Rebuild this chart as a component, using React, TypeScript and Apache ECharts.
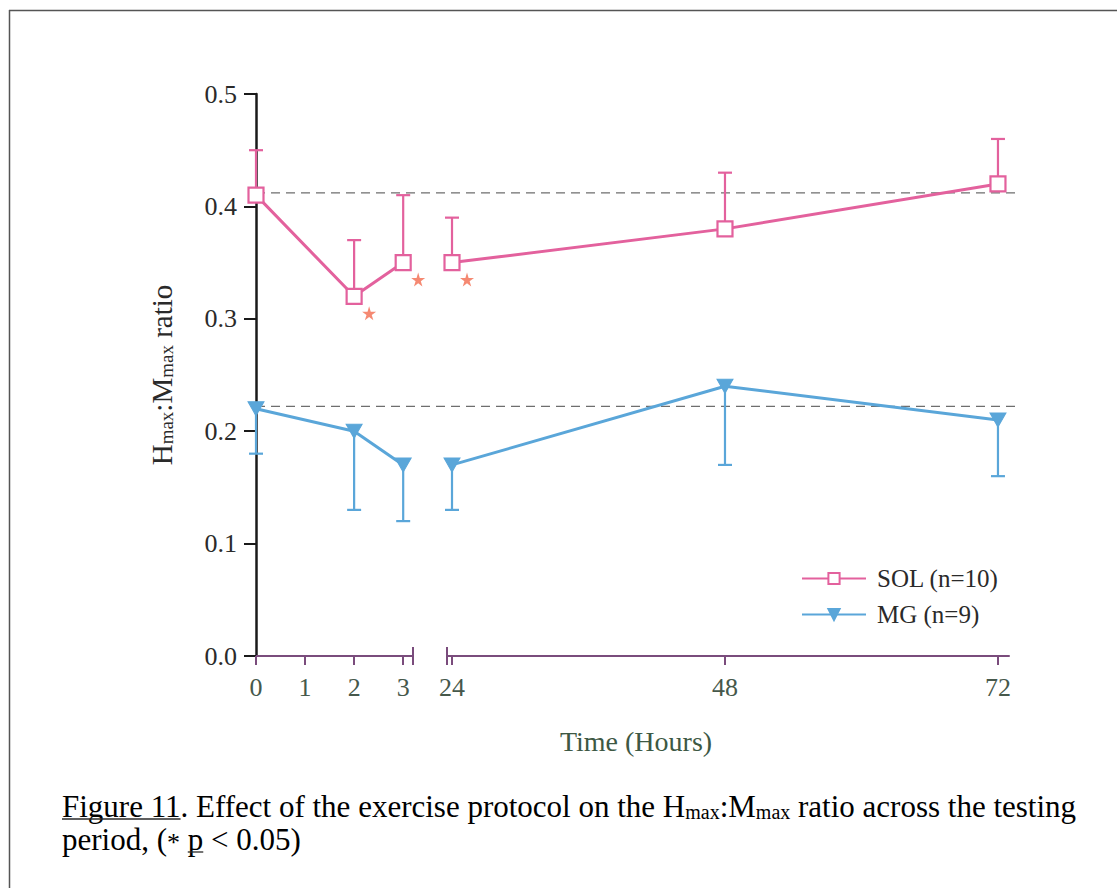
import React, { useEffect, useRef } from "react";
import * as echarts from "echarts";

// ---------- data ----------
const hours = [0, 2, 3, 24, 48, 72];
const solMean = [0.41, 0.32, 0.35, 0.35, 0.38, 0.42];
const solUpper = [0.45, 0.37, 0.41, 0.39, 0.43, 0.46];
const mgMean = [0.22, 0.2, 0.17, 0.17, 0.24, 0.21];
const mgLower = [0.18, 0.13, 0.12, 0.13, 0.17, 0.16];
const sigHours = [2, 3, 24];
const solBaseline = 0.412;
const mgBaseline = 0.222;
const earlyTicks = [0, 1, 2, 3];
const lateTicks = [24, 48, 72];
const lastEarlyHour = 3;
const earlyRange = [0, 3.2];
const lateRange = [23.56, 72.97];
const yTicks = [0, 0.1, 0.2, 0.3, 0.4, 0.5];
const solName = "SOL (n=10)";
const mgName = "MG (n=9)";

// ---------- styles ----------
const FONT = '"Liberation Serif", "Times New Roman", serif';
const PINK = "#e3619d";
const BLUE = "#5aa6d9";
const PURPLE = "#7a4c7c";
const STAR = "#f26b4f";
const XLAB = "#46584b";
const TXT = "#2a2a2a";
const STAR_PATH =
  "path://M50,0 L61,35 L98,35 L68,57 L79,91 L50,70 L21,91 L32,57 L2,35 L39,35 Z";

const isEarly = (h: number) => h <= lastEarlyHour;

function pick(vals: number[], early: boolean) {
  return hours
    .map((h, i) => ({ h, v: vals[i] }))
    .filter((d) => isEarly(d.h) === early)
    .map((d) => [d.h, d.v]);
}
function pickErr(means: number[], errs: number[], early: boolean) {
  return hours
    .map((h, i) => ({ h, m: means[i], e: errs[i] }))
    .filter((d) => isEarly(d.h) === early)
    .map((d) => [d.h, d.m, d.e]);
}
function stars(early: boolean) {
  return sigHours
    .filter((h) => isEarly(h) === early)
    .map((h) => [h, solMean[hours.indexOf(h)]]);
}

const errRender = (color: string) => (params: any, api: any) => {
  const x = api.value(0);
  const p0 = api.coord([x, api.value(1)]);
  const p1 = api.coord([x, api.value(2)]);
  const hw = 7;
  return {
    type: "group",
    children: [
      {
        type: "line",
        shape: { x1: p0[0], y1: p0[1], x2: p1[0], y2: p1[1] },
        style: { stroke: color, lineWidth: 2.2 },
      },
      {
        type: "line",
        shape: { x1: p1[0] - hw, y1: p1[1], x2: p1[0] + hw, y2: p1[1] },
        style: { stroke: color, lineWidth: 2.2 },
      },
    ],
  };
};

function measure(text: string, size: number) {
  const c = document.createElement("canvas").getContext("2d");
  if (!c) return text.length * size * 0.45;
  c.font = `${size}px "Liberation Serif"`;
  return c.measureText(text).width;
}

export default function App() {
  const ref = useRef<HTMLDivElement>(null);

  useEffect(() => {
    if (!ref.current) return;
    const chart = echarts.init(ref.current, undefined, { renderer: "svg" });

    const capSize = 31;
    const subSize = 20;
    const starSize = 26;
    const capRich = {
      n: { fontSize: capSize, fontFamily: FONT, color: TXT, lineHeight: 34, verticalAlign: "bottom" },
      u: { fontSize: capSize, fontFamily: FONT, color: TXT, lineHeight: 34, verticalAlign: "bottom" },
      s: { fontSize: subSize, fontFamily: FONT, color: TXT, lineHeight: 8, verticalAlign: "bottom" },
      r: { fontSize: starSize, fontFamily: FONT, color: "#e8503a", lineHeight: 34, verticalAlign: "bottom" },
    };
    const capX = 62;
    const line1Top = 788;
    const line2Top = 821;
    const figW = measure("Figure 11", capSize);
    const preP = measure("period, (", capSize) + measure("*", starSize) + measure(" ", capSize);
    const pW = measure("p", capSize);

    const staticGraphics: any[] = [
      { type: "line", shape: { x1: 9, y1: 10.5, x2: 1117, y2: 10.5 }, style: { stroke: "#555", lineWidth: 1.5 } },
      { type: "line", shape: { x1: 9.5, y1: 10, x2: 9.5, y2: 888 }, style: { stroke: "#555", lineWidth: 1.5 } },
      {
        type: "text",
        x: 636,
        y: 741,
        style: {
          text: "Time (Hours)",
          font: `28px ${FONT}`,
          fill: "#3d5844",
          align: "center",
          verticalAlign: "middle",
        },
      },
      {
        type: "text",
        x: capX,
        y: line1Top,
        style: {
          text: "{u|Figure 11}{n|. Effect of the exercise protocol on the H}{s|max}{n|:M}{s|max}{n| ratio across the testing}",
          rich: capRich,
          align: "left",
          verticalAlign: "top",
        },
      },
      {
        type: "text",
        x: capX,
        y: line2Top,
        style: {
          text: "{n|period, (}{r|*}{n| }{u|p}{n| < 0.05)}",
          rich: capRich,
          align: "left",
          verticalAlign: "top",
        },
      },
      {
        type: "line",
        shape: { x1: capX, y1: line1Top + 31, x2: capX + figW, y2: line1Top + 31 },
        style: { stroke: TXT, lineWidth: 1.3 },
      },
      {
        type: "line",
        shape: { x1: capX + preP, y1: line2Top + 31, x2: capX + preP + pW, y2: line2Top + 31 },
        style: { stroke: TXT, lineWidth: 1.3 },
      },
    ];

    const xAxisCommon = (ticks: number[]) => ({
      type: "value",
      axisLine: { show: true, onZero: false, lineStyle: { color: PURPLE, width: 2 } },
      axisTick: { show: true, customValues: ticks, length: 9, lineStyle: { color: PURPLE, width: 2 } },
      axisLabel: {
        customValues: ticks,
        fontSize: 26,
        fontFamily: FONT,
        color: XLAB,
        margin: 18,
        formatter: (v: number) => (ticks.includes(v) ? String(v) : ""),
      },
      splitLine: { show: false },
    });

    const lineSeries = (name: string, data: number[][], idx: number, sol: boolean) => ({
      name,
      type: "line",
      xAxisIndex: idx,
      yAxisIndex: idx,
      data,
      z: 3,
      symbol: sol ? "rect" : "triangle",
      symbolSize: sol ? 15 : [16, 14],
      symbolRotate: sol ? 0 : 180,
      showAllSymbol: true,
      itemStyle: sol
        ? { color: "#ffffff", borderColor: PINK, borderWidth: 2.2 }
        : { color: BLUE, borderColor: BLUE, borderWidth: 1 },
      lineStyle: { color: sol ? PINK : BLUE, width: 3 },
      silent: true,
    });

    const errSeries = (name: string, data: number[][], idx: number, color: string) => ({
      name,
      type: "custom",
      xAxisIndex: idx,
      yAxisIndex: idx,
      data,
      z: 1,
      silent: true,
      renderItem: errRender(color),
    });

    const starSeries = (idx: number, data: number[][]) => ({
      name: "sig" + idx,
      type: "scatter",
      xAxisIndex: idx,
      yAxisIndex: idx,
      data,
      z: 4,
      symbol: STAR_PATH,
      symbolSize: 14,
      symbolOffset: [15, 17],
      itemStyle: { color: STAR },
      silent: true,
    });

    const option: any = {
      animation: false,
      backgroundColor: "#ffffff",
      grid: [
        { left: 256, top: 94, width: 157, height: 562 },
        { left: 447, top: 94, width: 562, height: 562 },
      ],
      xAxis: [
        { gridIndex: 0, min: earlyRange[0], max: earlyRange[1], interval: 1, ...xAxisCommon(earlyTicks) },
        { gridIndex: 1, min: lateRange[0], max: lateRange[1], ...xAxisCommon(lateTicks) },
      ],
      yAxis: [
        {
          gridIndex: 0,
          type: "value",
          min: yTicks[0],
          max: yTicks[yTicks.length - 1],
          interval: yTicks[1] - yTicks[0],
          axisLine: { show: true, lineStyle: { color: "#1a1a1a", width: 2.5 } },
          axisTick: { show: true, length: 12, lineStyle: { color: "#1a1a1a", width: 2 } },
          axisLabel: {
            fontSize: 26,
            fontFamily: FONT,
            color: TXT,
            margin: 19,
            formatter: (v: number) => v.toFixed(1),
          },
          splitLine: { show: false },
          name: "{n|H}{s|max}{n|:M}{s|max}{n| ratio}",
          nameLocation: "middle",
          nameGap: 80,
          nameRotate: 90,
          nameTextStyle: {
            rich: {
              n: { fontSize: 29, fontFamily: FONT, color: TXT, lineHeight: 32, verticalAlign: "bottom" },
              s: { fontSize: 19, fontFamily: FONT, color: TXT, lineHeight: 8, verticalAlign: "bottom" },
            },
          },
        },
        {
          gridIndex: 1,
          type: "value",
          min: yTicks[0],
          max: yTicks[yTicks.length - 1],
          show: false,
          splitLine: { show: false },
        },
      ],
      legend: {
        left: 796,
        top: 561,
        orient: "vertical",
        itemWidth: 64,
        itemHeight: 14,
        itemGap: 11,
        textStyle: { fontSize: 25, fontFamily: FONT, color: TXT, padding: [0, 0, 0, 6] },
        data: [solName, mgName],
        selectedMode: false,
      },
      series: [
        errSeries("solErr0", pickErr(solMean, solUpper, true), 0, PINK),
        errSeries("solErr1", pickErr(solMean, solUpper, false), 1, PINK),
        errSeries("mgErr0", pickErr(mgMean, mgLower, true), 0, BLUE),
        errSeries("mgErr1", pickErr(mgMean, mgLower, false), 1, BLUE),
        lineSeries(solName, pick(solMean, true), 0, true),
        lineSeries(solName, pick(solMean, false), 1, true),
        lineSeries(mgName, pick(mgMean, true), 0, false),
        lineSeries(mgName, pick(mgMean, false), 1, false),
        starSeries(0, stars(true)),
        starSeries(1, stars(false)),
      ],
      graphic: staticGraphics,
    };

    chart.setOption(option);

    // decorations derived from the axes' own scales
    const x0 = chart.convertToPixel({ xAxisIndex: 0 }, earlyTicks[0]) as number;
    const xBreakL = chart.convertToPixel({ xAxisIndex: 0 }, earlyRange[1]) as number;
    const xBreakR = chart.convertToPixel({ xAxisIndex: 1 }, lateRange[0]) as number;
    const xEnd = (chart.convertToPixel({ xAxisIndex: 1 }, lateRange[1]) as number) + 6;
    const yZero = chart.convertToPixel({ yAxisIndex: 0 }, 0) as number;
    const ySol = chart.convertToPixel({ yAxisIndex: 0 }, solBaseline) as number;
    const yMg = chart.convertToPixel({ yAxisIndex: 0 }, mgBaseline) as number;

    const dyn: any[] = [
      {
        type: "line",
        z: 0,
        shape: { x1: x0, y1: ySol, x2: xEnd, y2: ySol },
        style: { stroke: "#6e6e6e", lineWidth: 1.3, lineDash: [9, 6] },
      },
      {
        type: "line",
        z: 0,
        shape: { x1: x0, y1: yMg, x2: xEnd, y2: yMg },
        style: { stroke: "#6e6e6e", lineWidth: 1.3, lineDash: [9, 6] },
      },
      {
        type: "line",
        shape: { x1: xBreakL, y1: yZero - 9, x2: xBreakL, y2: yZero + 9 },
        style: { stroke: PURPLE, lineWidth: 2 },
      },
      {
        type: "line",
        shape: { x1: xBreakR, y1: yZero - 9, x2: xBreakR, y2: yZero + 9 },
        style: { stroke: PURPLE, lineWidth: 2 },
      },
    ];
    chart.setOption({ graphic: [...staticGraphics, ...dyn] });

    return () => chart.dispose();
  }, []);

  return (
    <div
      ref={ref}
      style={{ position: "fixed", left: 0, top: 0, width: 1117, height: 888, background: "#fff" }}
    />
  );
}
